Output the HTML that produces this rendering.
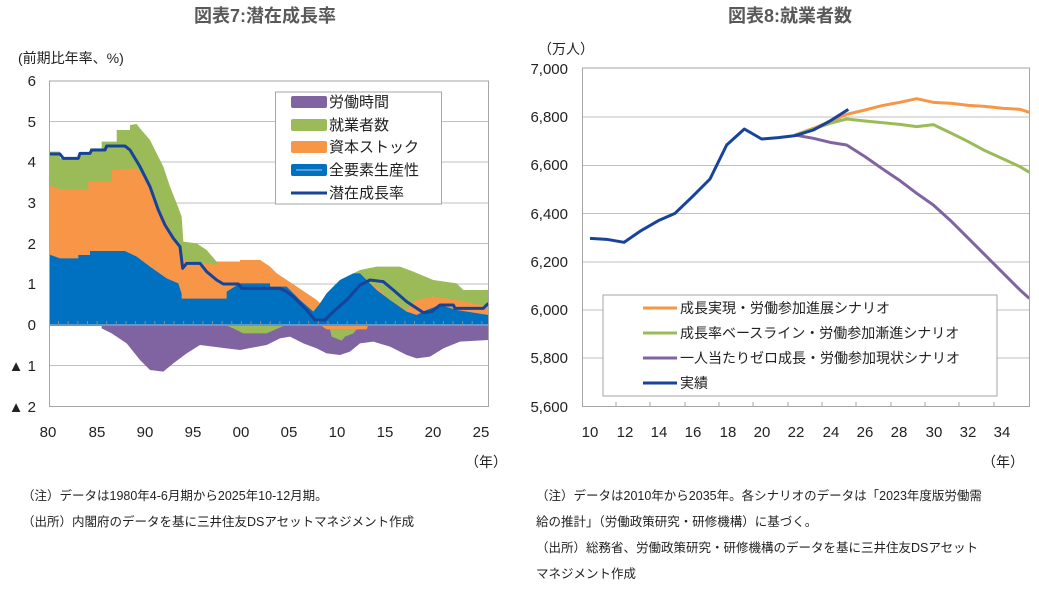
<!DOCTYPE html>
<html><head><meta charset="utf-8"><style>
body{margin:0;background:#fff;width:1039px;height:605px;overflow:hidden;font-family:"Liberation Sans","Noto Sans CJK JP",sans-serif;}
svg{position:absolute;left:0;top:0}
text{font-family:"Liberation Sans","Noto Sans CJK JP",sans-serif;fill:#222}
</style></head><body>
<svg width="1039" height="605" viewBox="0 0 1039 605">
<text x="265" y="22" font-size="18" font-weight="bold" text-anchor="middle" style="fill:#595959">図表7:潜在成長率</text>
<text x="790" y="22" font-size="18" font-weight="bold" text-anchor="middle" style="fill:#595959">図表8:就業者数</text>

<!-- LEFT CHART -->
<text x="18" y="63" font-size="14">(前期比年率、%)</text>
<g stroke="#bfbfbf" stroke-width="1">
<line x1="49" y1="121.5" x2="488" y2="121.5"/><line x1="49" y1="162" x2="488" y2="162"/>
<line x1="49" y1="203" x2="488" y2="203"/><line x1="49" y1="243.5" x2="488" y2="243.5"/>
<line x1="49" y1="284" x2="488" y2="284"/><line x1="49" y1="365.5" x2="488" y2="365.5"/>
</g>
<g transform="translate(40,70) scale(0.33333)">
<polygon fill="#9bbb59" points="27,765 27,245 60,245 60,265 115,265 115,250 150,250 150,235 185,235 185,215 230,215 230,180 270,180 270,165 290,162 300,175 330,210 350,250 370,290 390,350 410,400 425,440 430,515 470,520 500,540 530,575 600,575 600,570 660,570 690,590 710,610 740,630 770,650 800,670 830,690 840,700 860,670 900,630 940,610 960,600 1010,590 1080,590 1120,605 1180,630 1250,640 1270,660 1345,660 1345,765"/>
<polygon fill="#f79646" points="27,765 27,345 60,358 145,358 145,335 215,335 215,300 290,295 310,320 340,380 370,440 400,500 425,560 430,570 530,585 530,575 600,575 600,570 660,570 690,590 710,610 740,630 770,650 800,670 830,690 840,700 860,670 900,630 940,610 960,610 990,640 1010,650 1050,690 1100,720 1130,690 1180,680 1250,690 1300,700 1345,710 1345,765"/>
<polygon fill="#0070c0" points="27,765 27,553 60,565 115,565 115,555 150,555 150,543 255,543 290,560 330,590 380,625 415,640 425,672 425,686 560,686 560,665 600,640 690,640 690,650 740,650 780,690 820,725 840,700 860,670 900,630 940,610 960,610 990,640 1010,660 1050,690 1100,725 1130,735 1160,720 1200,705 1250,720 1345,735 1345,765"/>
<polygon fill="#8064a2" points="185,765 185,775 215,790 260,820 300,870 330,900 370,905 400,880 440,850 480,825 560,835 600,840 680,825 720,805 750,800 790,820 830,835 860,850 900,855 930,845 960,820 1000,815 1050,830 1100,855 1130,865 1170,860 1210,835 1260,815 1345,810 1345,765"/>
<polygon fill="#9bbb59" points="555,765 580,775 610,790 680,790 730,768 730,765"/>
<polygon fill="#f79646" points="840,765 860,778 980,778 985,765"/>
<polygon fill="#9bbb59" points="870,778 875,800 905,812 915,800 940,790 950,778"/>
<line x1="27" y1="765" x2="1345" y2="765" stroke="#5b9bd5" stroke-width="6"/>
<polyline fill="none" stroke="#17439b" stroke-width="9" stroke-linejoin="round" points="27,252 60,252 70,265 115,265 120,250 150,250 155,240 195,240 200,228 255,228 270,240 300,290 330,350 355,420 375,465 400,505 420,530 428,595 440,580 480,580 500,605 530,630 550,642 595,642 605,655 720,655 740,665 760,680 800,720 825,750 855,750 880,725 920,690 960,645 990,630 1030,635 1060,660 1100,695 1150,728 1175,725 1200,705 1240,705 1245,715 1330,715 1345,700"/>
</g>
<g stroke="#8a8a8a" stroke-width="1">
<line x1="58.6" y1="321" x2="58.6" y2="325"/><line x1="68.2" y1="321" x2="68.2" y2="325"/><line x1="77.9" y1="321" x2="77.9" y2="325"/><line x1="87.5" y1="321" x2="87.5" y2="325"/><line x1="97.1" y1="321" x2="97.1" y2="325"/><line x1="106.7" y1="321" x2="106.7" y2="325"/><line x1="116.3" y1="321" x2="116.3" y2="325"/><line x1="126" y1="321" x2="126" y2="325"/><line x1="135.6" y1="321" x2="135.6" y2="325"/><line x1="145.2" y1="321" x2="145.2" y2="325"/><line x1="154.8" y1="321" x2="154.8" y2="325"/><line x1="164.4" y1="321" x2="164.4" y2="325"/><line x1="174" y1="321" x2="174" y2="325"/><line x1="183.7" y1="321" x2="183.7" y2="325"/><line x1="193.3" y1="321" x2="193.3" y2="325"/><line x1="202.9" y1="321" x2="202.9" y2="325"/><line x1="212.5" y1="321" x2="212.5" y2="325"/><line x1="222.1" y1="321" x2="222.1" y2="325"/><line x1="231.8" y1="321" x2="231.8" y2="325"/><line x1="241.4" y1="321" x2="241.4" y2="325"/><line x1="251" y1="321" x2="251" y2="325"/><line x1="260.6" y1="321" x2="260.6" y2="325"/><line x1="270.2" y1="321" x2="270.2" y2="325"/><line x1="279.9" y1="321" x2="279.9" y2="325"/><line x1="289.5" y1="321" x2="289.5" y2="325"/><line x1="299.1" y1="321" x2="299.1" y2="325"/><line x1="308.7" y1="321" x2="308.7" y2="325"/><line x1="318.3" y1="321" x2="318.3" y2="325"/><line x1="328" y1="321" x2="328" y2="325"/><line x1="337.6" y1="321" x2="337.6" y2="325"/><line x1="347.2" y1="321" x2="347.2" y2="325"/><line x1="356.8" y1="321" x2="356.8" y2="325"/><line x1="366.4" y1="321" x2="366.4" y2="325"/><line x1="376" y1="321" x2="376" y2="325"/><line x1="385.7" y1="321" x2="385.7" y2="325"/><line x1="395.3" y1="321" x2="395.3" y2="325"/><line x1="404.9" y1="321" x2="404.9" y2="325"/><line x1="414.5" y1="321" x2="414.5" y2="325"/><line x1="424.1" y1="321" x2="424.1" y2="325"/><line x1="433.8" y1="321" x2="433.8" y2="325"/><line x1="443.4" y1="321" x2="443.4" y2="325"/><line x1="453" y1="321" x2="453" y2="325"/><line x1="462.6" y1="321" x2="462.6" y2="325"/><line x1="472.2" y1="321" x2="472.2" y2="325"/><line x1="481.9" y1="321" x2="481.9" y2="325"/>
</g>
<rect x="49.5" y="81" width="439" height="325.5" fill="none" stroke="#a6a6a6"/>
<g font-size="15" text-anchor="end">
<text x="36" y="86">6</text><text x="36" y="127">5</text><text x="36" y="167">4</text><text x="36" y="208">3</text><text x="36" y="249">2</text><text x="36" y="289">1</text><text x="36" y="330">0</text><text x="36" y="371">▲ 1</text><text x="36" y="412">▲ 2</text>
</g>
<g font-size="15" text-anchor="middle">
<text x="48" y="437">80</text><text x="97" y="437">85</text><text x="145" y="437">90</text><text x="193" y="437">95</text><text x="241" y="437">00</text><text x="289" y="437">05</text><text x="337" y="437">10</text><text x="385" y="437">15</text><text x="433" y="437">20</text><text x="481" y="437">25</text>
</g>
<text x="465" y="467" font-size="14">（年）</text>
<rect x="275.5" y="92" width="166" height="112" fill="#fff" stroke="#a6a6a6"/>
<g font-size="15">
<rect x="291" y="96" width="36" height="12" rx="2" fill="#8064a2"/><text x="329" y="107">労働時間</text>
<rect x="291" y="119" width="36" height="12" rx="2" fill="#9bbb59"/><text x="329" y="130">就業者数</text>
<rect x="291" y="141" width="36" height="12" rx="2" fill="#f79646"/><text x="329" y="152">資本ストック</text>
<rect x="291" y="164" width="36" height="12" rx="2" fill="#0070c0"/><line x1="296" y1="170" x2="322" y2="170" stroke="#5b9bd5" stroke-width="2"/><text x="329" y="175">全要素生産性</text>
<line x1="291" y1="193" x2="327" y2="193" stroke="#17439b" stroke-width="3"/><text x="329" y="198">潜在成長率</text>
</g>

<!-- RIGHT CHART -->
<text x="538" y="54" font-size="14">（万人）</text>
<g stroke="#bfbfbf" stroke-width="1">
<line x1="582" y1="117" x2="1029" y2="117"/><line x1="582" y1="165.5" x2="1029" y2="165.5"/>
<line x1="582" y1="213.5" x2="1029" y2="213.5"/><line x1="582" y1="262" x2="1029" y2="262"/>
<line x1="582" y1="310" x2="1029" y2="310"/><line x1="582" y1="358" x2="1029" y2="358"/>
</g>
<g transform="translate(560,60) scale(0.33333)" fill="none" stroke-width="9" stroke-linejoin="round">
<polyline stroke="#f79646" points="705,225 760,205 810,185 860,163 915,150 965,137 1020,127 1070,116 1120,127 1175,130 1225,136 1275,139 1330,145 1380,148 1408,157"/>
<polyline stroke="#9bbb59" points="705,225 760,207 810,190 860,177 915,183 965,188 1020,193 1070,200 1120,194 1175,220 1225,245 1275,272 1330,297 1380,320 1408,337"/>
<polyline stroke="#8064a2" points="705,225 760,235 810,247 860,255 915,290 965,325 1020,362 1070,400 1120,435 1175,485 1225,535 1275,585 1330,640 1380,690 1408,715"/>
<polyline stroke="#17439b" points="90,535 140,538 192,547 243,512 295,482 345,460 397,410 450,357 500,255 553,207 605,237 655,233 705,227 760,210 810,183 865,148"/>
</g>
<rect x="582.5" y="68" width="447" height="338.5" fill="none" stroke="#a6a6a6"/>
<g stroke="#a6a6a6"><line x1="616" y1="402" x2="616" y2="406"/><line x1="650" y1="402" x2="650" y2="406"/><line x1="685" y1="402" x2="685" y2="406"/><line x1="719" y1="402" x2="719" y2="406"/><line x1="753" y1="402" x2="753" y2="406"/><line x1="788" y1="402" x2="788" y2="406"/><line x1="822" y1="402" x2="822" y2="406"/><line x1="856" y1="402" x2="856" y2="406"/><line x1="891" y1="402" x2="891" y2="406"/><line x1="925" y1="402" x2="925" y2="406"/><line x1="959" y1="402" x2="959" y2="406"/><line x1="994" y1="402" x2="994" y2="406"/></g>
<g font-size="15" text-anchor="end">
<text x="568" y="74">7,000</text><text x="568" y="122">6,800</text><text x="568" y="170">6,600</text><text x="568" y="219">6,400</text><text x="568" y="267">6,200</text><text x="568" y="315">6,000</text><text x="568" y="363">5,800</text><text x="568" y="412">5,600</text>
</g>
<g font-size="15" text-anchor="middle">
<text x="590" y="437">10</text><text x="625" y="437">12</text><text x="659" y="437">14</text><text x="693" y="437">16</text><text x="728" y="437">18</text><text x="762" y="437">20</text><text x="796" y="437">22</text><text x="831" y="437">24</text><text x="865" y="437">26</text><text x="899" y="437">28</text><text x="934" y="437">30</text><text x="968" y="437">32</text><text x="1002" y="437">34</text>
</g>
<text x="982" y="467" font-size="14">（年）</text>
<rect x="603" y="295" width="394" height="101" fill="#fff" stroke="#a6a6a6"/>
<g font-size="14">
<line x1="643" y1="308" x2="677" y2="308" stroke="#f79646" stroke-width="3"/><text x="680" y="313">成長実現・労働参加進展シナリオ</text>
<line x1="643" y1="333" x2="677" y2="333" stroke="#9bbb59" stroke-width="3"/><text x="680" y="338">成長率ベースライン・労働参加漸進シナリオ</text>
<line x1="643" y1="358" x2="677" y2="358" stroke="#8064a2" stroke-width="3"/><text x="680" y="363">一人当たりゼロ成長・労働参加現状シナリオ</text>
<line x1="643" y1="383" x2="677" y2="383" stroke="#17439b" stroke-width="3"/><text x="680" y="388">実績</text>
</g>

<!-- NOTES -->
<g font-size="12.5">
<text x="22" y="500">（注）データは1980年4-6月期から2025年10-12月期。</text>
<text x="22" y="526">（出所）内閣府のデータを基に三井住友DSアセットマネジメント作成</text>
<text x="536" y="500">（注）データは2010年から2035年。各シナリオのデータは「2023年度版労働需</text>
<text x="536" y="526">給の推計」（労働政策研究・研修機構）に基づく。</text>
<text x="536" y="552">（出所）総務省、労働政策研究・研修機構のデータを基に三井住友DSアセット</text>
<text x="536" y="578">マネジメント作成</text>
</g>
</svg>
</body></html>
